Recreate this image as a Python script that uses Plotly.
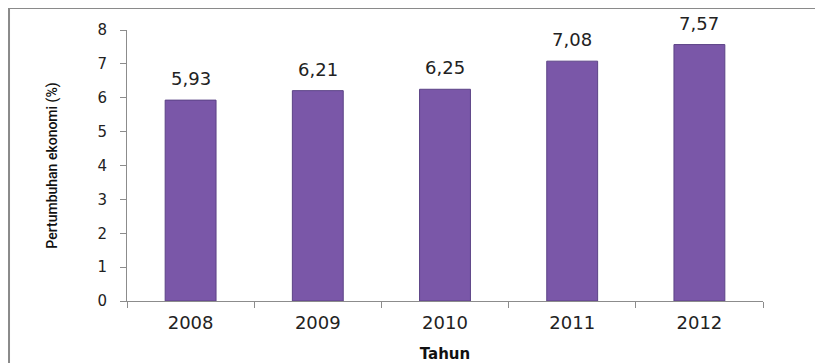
import plotly.graph_objects as go

years = ["2008", "2009", "2010", "2011", "2012"]
growth = [5.93, 6.21, 6.25, 7.08, 7.57]
y_ticks = [0, 1, 2, 3, 4, 5, 6, 7, 8]

labels = [f"{v:.2f}".replace(".", ",") for v in growth]

fig = go.Figure()
fig.add_trace(go.Bar(
    x=years, y=growth,
    marker=dict(color="#7A57A8", line=dict(color="#5C4386", width=1)),
    width=0.4,
))

for i, (v, lab) in enumerate(zip(growth, labels)):
    fig.add_annotation(x=i, y=v, text=lab, showarrow=False, yanchor="bottom",
                       yshift=9, font=dict(family="DejaVu Sans", size=18, color="#222222"))

fig.update_layout(
    width=815, height=355,
    margin=dict(l=119, r=60, t=22, b=62, autoexpand=False),
    paper_bgcolor="white", plot_bgcolor="white",
    showlegend=False,
    font=dict(family="DejaVu Sans", color="#222222"),
    xaxis=dict(
        type="category", automargin=False, range=[-0.5, len(years) - 0.5],
        showline=True, linecolor="#8c8c8c", linewidth=1,
        ticks="outside", tickson="boundaries", ticklen=6, tickcolor="#8c8c8c",
        ticklabelstandoff=5,
        tickfont=dict(size=18, color="#222222"), tickangle=0,
        title=dict(text="<b>Tahun</b>", font=dict(size=15, color="#111111"), standoff=17),
    ),
    yaxis=dict(
        automargin=False,
        range=[0, 8], tickvals=y_ticks, showgrid=False, zeroline=False,
        showline=True, linecolor="#8c8c8c", linewidth=1,
        ticks="outside", ticklen=6, tickcolor="#8c8c8c",
        ticklabelstandoff=10,
        tickfont=dict(size=15, color="#222222"),
        title=dict(text="Pertumbuhan ekonomi (%)",
                   font=dict(family="Roboto", size=14, weight=500, color="#111111"),
                   standoff=36),
    ),
    shapes=[dict(type="rect", xref="paper", yref="paper",
                 x0=-0.1855, x1=1.2, y0=-0.3, y1=1.0812,
                 line=dict(color="#8a8a8a", width=2), layer="below")],
)

fig.write_html("out.html")
